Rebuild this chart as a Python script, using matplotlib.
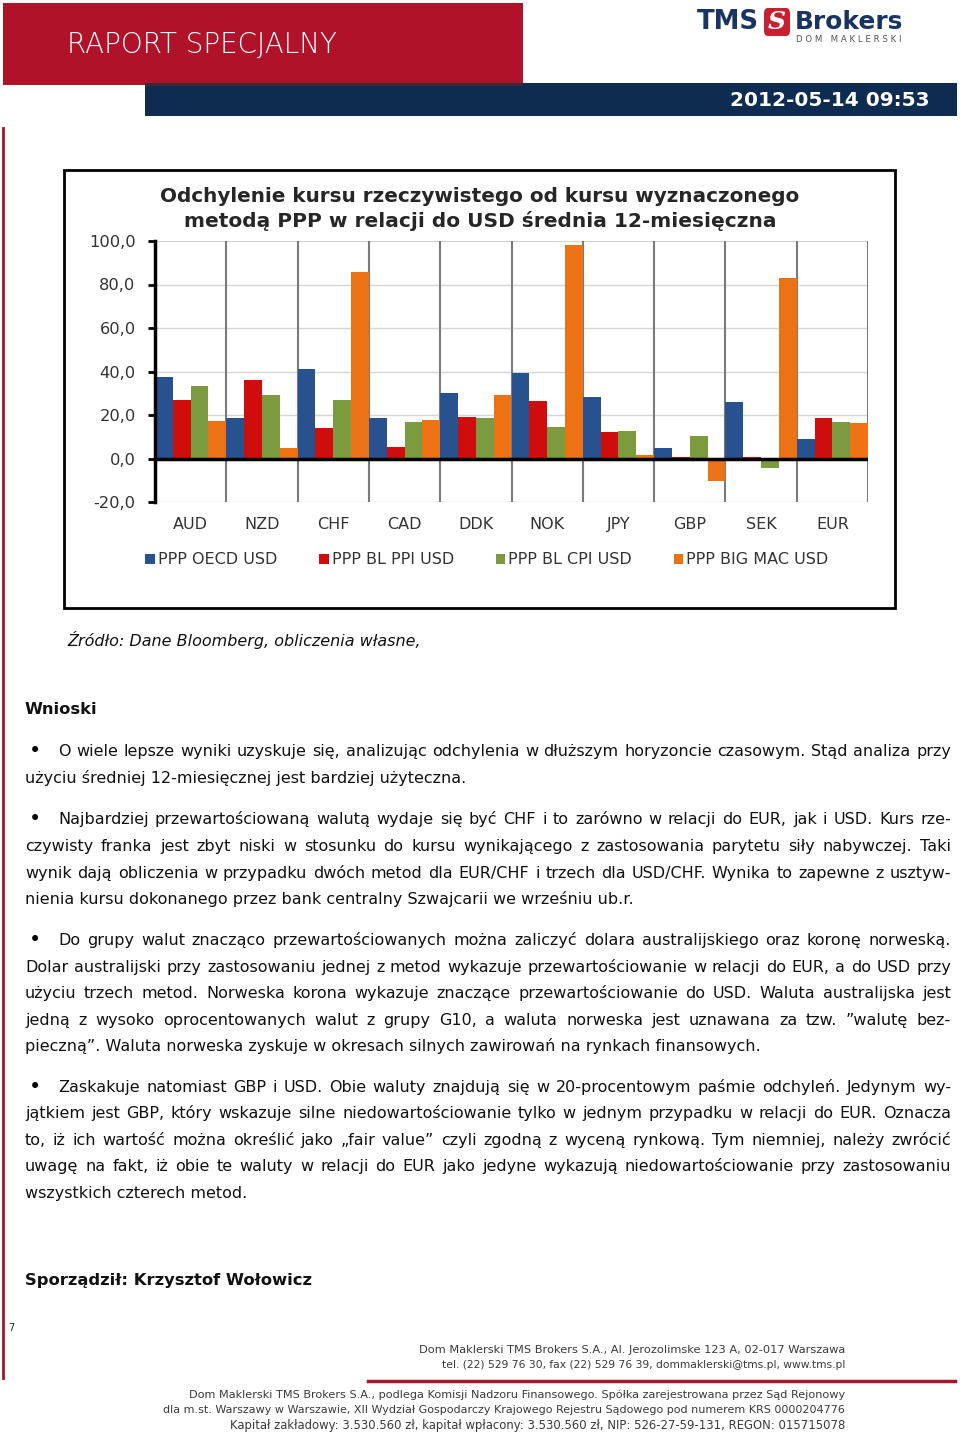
import matplotlib
matplotlib.use('Agg')
import matplotlib.pyplot as plt
from matplotlib.patches import Rectangle, FancyBboxPatch
from matplotlib.lines import Line2D
import numpy as np

# ---------------- data ----------------
categories = ['AUD', 'NZD', 'CHF', 'CAD', 'DDK', 'NOK', 'JPY', 'GBP', 'SEK', 'EUR']
series_names = ['PPP OECD USD', 'PPP BL PPI USD', 'PPP BL CPI USD', 'PPP BIG MAC USD']
ppp_oecd = [37.4, 18.6, 41.1, 18.6, 30.1, 39.3, 28.2, 5.0, 26.0, 9.0]
ppp_bl_ppi = [26.8, 35.9, 13.9, 5.5, 19.0, 26.3, 12.2, 0.6, 0.9, 18.4]
ppp_bl_cpi = [33.5, 29.2, 27.1, 16.7, 18.6, 14.5, 12.8, 10.5, -4.4, 16.7]
ppp_big_mac = [17.4, 4.6, 85.8, 17.7, 29.2, 98.3, 1.8, -10.2, 82.8, 16.1]
y_ticks = [-20, 0, 20, 40, 60, 80, 100]
y_tick_labels = ['-20,0', '0,0', '20,0', '40,0', '60,0', '80,0', '100,0']
series_colors = ['#27528F', '#D00D0D', '#7C9A3E', '#EC7214']

chart_title = ['Odchylenie kursu rzeczywistego od kursu wyznaczonego',
               'metodą PPP w relacji do USD średnia 12-miesięczna']

paragraphs = [
    ["O wiele lepsze wyniki uzyskuje się, analizując odchylenia w dłuższym horyzoncie czasowym. Stąd analiza przy",
     "użyciu średniej 12-miesięcznej jest bardziej użyteczna."],
    ["Najbardziej przewartościowaną walutą wydaje się być CHF i to zarówno w relacji do EUR, jak i USD. Kurs rze-",
     "czywisty franka jest zbyt niski w stosunku do kursu wynikającego z zastosowania parytetu siły nabywczej. Taki",
     "wynik dają obliczenia w przypadku dwóch metod dla EUR/CHF i trzech dla USD/CHF. Wynika to zapewne z usztyw-",
     "nienia kursu dokonanego przez bank centralny Szwajcarii we wrześniu ub.r."],
    ["Do grupy walut znacząco przewartościowanych można zaliczyć dolara australijskiego oraz koronę norweską.",
     "Dolar australijski przy zastosowaniu jednej z metod wykazuje przewartościowanie w relacji do EUR, a do USD przy",
     "użyciu trzech metod. Norweska korona wykazuje znaczące przewartościowanie do USD. Waluta australijska jest",
     "jedną z wysoko oprocentowanych walut z grupy G10, a waluta norweska jest uznawana za tzw. ”walutę bez-",
     "pieczną”. Waluta norweska zyskuje w okresach silnych zawirowań na rynkach finansowych."],
    ["Zaskakuje natomiast GBP i USD. Obie waluty znajdują się w 20-procentowym paśmie odchyleń. Jedynym wy-",
     "jątkiem jest GBP, który wskazuje silne niedowartościowanie tylko w jednym przypadku w relacji do EUR. Oznacza",
     "to, iż ich wartość można określić  jako „fair value” czyli zgodną z wyceną rynkową. Tym niemniej, należy zwrócić",
     "uwagę na fakt, iż obie te waluty w relacji do EUR jako jedyne wykazują niedowartościowanie przy zastosowaniu",
     "wszystkich czterech metod."],
]
paragraph_line_y = [[750, 777], [818, 845, 872, 898], [939, 966, 992, 1019, 1045],
                    [1086, 1112, 1139, 1165, 1192]]

footer_top = ["Dom Maklerski TMS Brokers S.A., Al. Jerozolimske 123 A, 02-017 Warszawa",
              "tel. (22) 529 76 30, fax (22) 529 76 39, dommaklerski@tms.pl, www.tms.pl"]
footer_bottom = ["Dom Maklerski TMS Brokers S.A., podlega Komisji Nadzoru Finansowego. Spółka zarejestrowana przez Sąd Rejonowy",
                 "dla m.st. Warszawy w Warszawie, XII Wydział Gospodarczy Krajowego Rejestru Sądowego pod numerem KRS 0000204776",
                 "Kapitał zakładowy: 3.530.560 zł, kapitał wpłacony: 3.530.560 zł, NIP: 526-27-59-131, REGON: 015715078"]

# ---------------- figure ----------------
W, H = 960, 1436
fig = plt.figure(figsize=(W / 100, H / 100), dpi=100)
fig.patch.set_facecolor('white')
renderer = fig.canvas.get_renderer()


def fx(x):
    return x / W


def fy(y):
    return 1 - y / H


def rect(x0, y0, x1, y1, **kw):
    fig.add_artist(Rectangle((fx(x0), fy(y1)), (x1 - x0) / W, (y1 - y0) / H,
                             transform=fig.transFigure, **kw))


def hline(x0, x1, y, **kw):
    fig.add_artist(Line2D([fx(x0), fx(x1)], [fy(y), fy(y)], transform=fig.transFigure, **kw))


def vline(x, y0, y1, **kw):
    fig.add_artist(Line2D([fx(x), fx(x)], [fy(y0), fy(y1)], transform=fig.transFigure, **kw))


def txt(x, y, s, **kw):
    return fig.text(fx(x), fy(y), s, **kw)


def width_of(t):
    return t.get_window_extent(renderer).width


def fitted(x, y, s, target_w, size0=10, **kw):
    t = txt(x, y, s, fontsize=size0, **kw)
    w = width_of(t)
    t.set_fontsize(size0 * target_w / w)
    return t


# ---------------- header ----------------
rect(145, 83, 957, 116, facecolor='#0E2B52', edgecolor='none')
rect(3, 3, 523, 85, facecolor='#AF1229', edgecolor='none')
rect(145, 83, 523, 86, facecolor='#3a2a33', edgecolor='none')
fitted(67, 45, 'RAPORT SPECJALNY', 269, 18, color='white', va='center', ha='left',
       family='DejaVu Sans', fontweight='light')
fitted(930, 100, '2012-05-14 09:53', 200, 14, color='white', va='center', ha='right',
       family=['Liberation Sans Narrow', 'DejaVu Sans'], fontweight='bold')
# logo
fitted(697, 22, 'TMS', 62, 18, color='#1A3462', va='center', ha='left',
       family=['Liberation Sans Narrow', 'DejaVu Sans'], fontweight='bold')
fig.add_artist(FancyBboxPatch((fx(764), fy(36)), 26 / W, 28 / H,
                              boxstyle='round,pad=0,rounding_size=0.004',
                              transform=fig.transFigure, facecolor='#C8202F', edgecolor='none'))
txt(777, 22, 'S', color='white', va='center', ha='center', fontsize=18,
    fontweight='bold', fontstyle='italic', family='DejaVu Serif')
fitted(795, 22, 'Brokers', 108, 18, color='#1A3462', va='center', ha='left',
       family=['Liberation Sans Narrow', 'DejaVu Sans'], fontweight='bold')
fitted(796, 40, 'D O M   M A K L E R S K I', 106, 5, color='#555555', va='center', ha='left',
       family='DejaVu Sans')

# left red rule
vline(3, 128, 1378, color='#A3162E', lw=2)

# ---------------- chart ----------------
rect(64, 170, 895, 608, fill=False, edgecolor='black', lw=2)
for i, line in enumerate(chart_title):
    fitted(480, 196 + 25 * i, line, [634, 585][i], 13, ha='center', va='center',
           fontweight='bold', color='#262626', family='DejaVu Sans')

px_l, px_r, px_t, px_b = 155, 868, 241, 502
ax = fig.add_axes([fx(px_l), fy(px_b), (px_r - px_l) / W, (px_b - px_t) / H])
ax.set_zorder(5)
x = np.arange(len(categories))
bw = 0.25
series = [ppp_oecd, ppp_bl_ppi, ppp_bl_cpi, ppp_big_mac]
handles = []
for j, (vals, col, name) in enumerate(zip(series, series_colors, series_names)):
    b = ax.bar(x + (j - 1.5) * bw, vals, width=bw, color=col, label=name, zorder=3)
    handles.append(b)
ax.set_xlim(-0.5, len(categories) - 0.5)
ax.set_ylim(-20, 100)
ax.set_yticks(y_ticks)
ax.set_yticklabels(y_tick_labels)
for v in y_ticks:
    ax.axhline(v, color='#d6d6d6', lw=1, zorder=1)
for k in range(1, len(categories) + 1):
    ax.axvline(k - 0.5, color='#7a7a7a', lw=1.5, zorder=2)
ax.axhline(0, color='black', lw=2.5, zorder=4)
ax.set_xticks(x)
ax.set_xticklabels(categories)
ax.tick_params(axis='x', length=0, pad=11, labelsize=11.5, labelcolor='#333333')
ax.tick_params(axis='y', length=5, width=2, direction='out', pad=9, labelsize=11.7,
               labelcolor='#333333')
for s in ['top', 'right', 'bottom']:
    ax.spines[s].set_visible(False)
ax.spines['left'].set_linewidth(2.5)
ax.spines['left'].set_zorder(6)
ax.patch.set_alpha(0)

fig.legend(handles=handles, labels=series_names, loc='center', ncol=4,
           bbox_to_anchor=(fx(487), fy(560)), frameon=False, fontsize=11.5,
           handlelength=0.6, handleheight=0.6, handletextpad=0.2, columnspacing=2.6,
           labelcolor='#333333')

# ---------------- body text ----------------
fitted(67, 640, 'Źródło: Dane Bloomberg, obliczenia własne,', 353, 12, fontstyle='italic',
       va='center', ha='left', color='#111111')
fitted(25, 709, 'Wnioski', 72, 12, fontweight='bold', va='center', ha='left', color='#111111')

# body font size fitted to a known unjustified line
probe = txt(0, 0, paragraphs[0][1], fontsize=12)
body_size = 12 * 437 / width_of(probe)
probe.remove()

X_LEFT, X_RIGHT, X_FIRST, BULLET_X = 25, 951, 58, 29


def draw_line(s, x0, x1, y, justify):
    words = s.split()
    if not justify:
        txt(x0, y, ' '.join(words), fontsize=body_size, va='baseline', ha='left', color='#111111')
        return
    ts = [txt(0, y, w, fontsize=body_size, va='baseline', ha='left', color='#111111') for w in words]
    ws = [width_of(t) for t in ts]
    gap = (x1 - x0 - sum(ws)) / (len(words) - 1)
    cx = x0
    for t, w in zip(ts, ws):
        t.set_x(fx(cx))
        cx += w + gap


for para, ys in zip(paragraphs, paragraph_line_y):
    txt(BULLET_X, ys[0] + 7, '•', fontsize=body_size * 1.3, va='baseline', ha='left', color='black')
    for li, (line, y) in enumerate(zip(para, ys)):
        x0 = X_FIRST if li == 0 else X_LEFT
        draw_line(line, x0, X_RIGHT, y + 6, li < len(para) - 1)

fitted(25, 1281, 'Sporządził: Krzysztof Wołowicz', 286, 12, fontweight='bold', va='center',
       ha='left', color='#111111')

# ---------------- footer ----------------
txt(8, 1328, '7', fontsize=7, va='center', ha='left', color='#222222')
for i, line in enumerate(footer_top):
    fitted(845, 1350 + 15 * i, line, [425, 403][i], 7.5, ha='right', va='center', color='#3a3a3a',
           family=['Liberation Sans Narrow', 'DejaVu Sans'])
hline(368, 955, 1381, color='#A3162E', lw=2.5)
for i, line in enumerate(footer_bottom):
    fitted(845, 1395 + 15 * i, line, [659, 677, 613][i], 7.5, ha='right', va='center', color='#3a3a3a',
           family=['Liberation Sans Narrow', 'DejaVu Sans'])

fig.savefig('out.png', dpi=100, facecolor='white')
